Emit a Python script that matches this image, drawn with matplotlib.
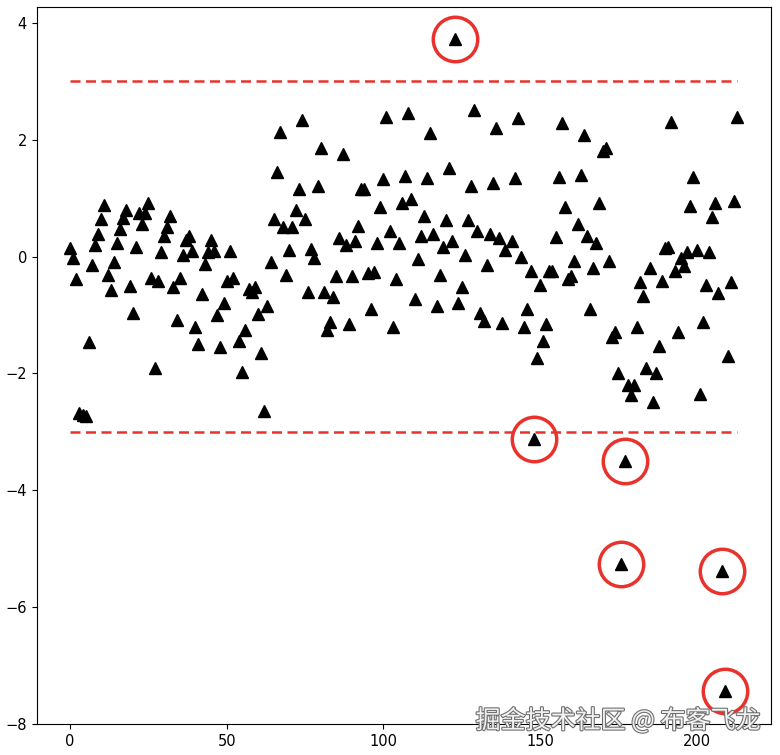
import matplotlib.pyplot as plt
import matplotlib.patheffects as pe

# index of each sample and its value
xs = [0, 1, 2, 3, 4, 5, 6, 7, 8, 9, 10, 11, 12, 13, 14, 15, 16, 17, 18, 19,
      20, 21, 22, 23, 24, 25, 26, 27, 28, 29, 30, 31, 32, 33, 34, 35, 36, 37, 38, 39,
      40, 41, 42, 43, 44, 45, 46, 47, 48, 49, 50, 51, 52, 54, 55, 56, 57, 58, 59, 60,
      61, 62, 63, 64, 65, 66, 67, 68, 69, 70, 71, 72, 73, 74, 75, 76, 77, 78, 79, 80,
      81, 82, 83, 84, 85, 86, 87, 88, 89, 90, 91, 92, 93, 94, 95, 96, 97, 98, 99, 100,
      101, 102, 103, 104, 105, 106, 107, 108, 109, 110, 111, 112, 113, 114, 115, 116, 117, 118, 119, 120,
      121, 123, 122, 124, 125, 126, 127, 128, 129, 130, 131, 132, 133, 134, 135, 136, 137, 138, 139, 141,
      142, 143, 144, 145, 146, 147, 148, 149, 150, 151, 152, 153, 154, 155, 156, 157, 158, 159, 160, 161,
      162, 163, 164, 165, 166, 167, 168, 169, 170, 171, 172, 173, 174, 175, 176, 177, 178, 179, 180, 181,
      182, 183, 184, 185, 186, 187, 188, 189, 190, 191, 192, 193, 194, 195, 196, 197, 198, 199, 200, 201,
      202, 203, 204, 205, 206, 207, 208, 209, 210, 211, 212, 213]
ys = [0.15, -0.03, -0.38, -2.68, -2.72, -2.74, -1.47, -0.14, 0.19, 0.38, 0.65, 0.89, -0.31, -0.58, -0.10, 0.24, 0.48, 0.66, 0.80, -0.51,
      -0.97, 0.17, 0.75, 0.55, 0.75, 0.92, -0.36, -1.91, -0.42, 0.07, 0.36, 0.50, 0.69, -0.53, -1.09, -0.36, 0.03, 0.29, 0.36, 0.10,
      -1.21, -1.49, -0.65, -0.12, 0.07, 0.29, 0.09, -1.00, -1.55, -0.79, -0.42, 0.09, -0.36, -1.45, -1.98, -1.25, -0.56, -0.60, -0.53, -0.99,
      -1.66, -2.65, -0.84, -0.09, 0.65, 1.44, 2.14, 0.51, -0.32, 0.12, 0.51, 0.79, 1.16, 2.34, 0.65, -0.61, 0.13, -0.02, 1.21, 1.86,
      -0.61, -1.25, -1.12, -0.70, -0.34, 0.32, 1.76, 0.20, -1.15, -0.34, 0.26, 0.53, 1.16, 1.16, -0.29, -0.89, -0.27, 0.24, 0.85, 1.32,
      2.39, 0.43, -1.20, -0.39, 0.24, 0.92, 1.38, 2.46, 0.99, -0.72, -0.05, 0.36, 0.70, 1.35, 2.12, 0.39, -0.84, -0.31, 0.17, 0.62,
      1.52, 3.72, 0.26, -0.79, -0.53, 0.03, 0.62, 1.21, 2.51, 0.44, -0.96, -1.11, -0.14, 0.39, 1.26, 2.20, 0.31, -1.13, 0.12, 0.27,
      1.35, 2.37, 0.00, -1.20, -0.89, -0.25, -3.13, -1.74, -0.48, -1.44, -1.16, -0.25, -0.24, 0.34, 1.37, 2.29, 0.85, -0.39, -0.34, -0.07,
      0.56, 1.40, 2.09, 0.36, -0.89, -0.19, 0.24, 0.92, 1.81, 1.86, -0.07, -1.37, -1.30, -2.00, -5.26, -3.50, -2.20, -2.38, -2.20, -1.20,
      -0.44, -0.68, -1.91, -0.19, -2.50, -2.00, -1.54, -0.42, 0.15, 0.17, 2.31, -0.25, -1.30, -0.02, -0.17, 0.07, 0.87, 1.37, 0.12, -2.36,
      -1.12, -0.48, 0.07, 0.68, 0.92, -0.62, -5.38, -7.45, -1.70, -0.44, 0.96, 2.39]

upper = 3
lower = -3

fig = plt.figure(figsize=(7.8, 7.55), dpi=100)
ax = fig.add_axes([0.047, 0.041, 0.941, 0.950])

ax.plot(xs, ys, '^', color='black', markersize=8, linestyle='none')

# threshold lines
ax.hlines([upper, lower], 0, max(xs), colors='#e8322b', linestyles=(0, (4, 2.2)), linewidth=1.8)

# circle the outliers
out_x = [x for x, y in zip(xs, ys) if y > upper or y < lower]
out_y = [y for y in ys if y > upper or y < lower]
ax.plot(out_x, out_y, 'o', markersize=32, markerfacecolor='none',
        markeredgecolor='#e8322b', markeredgewidth=2.5, linestyle='none')

ax.tick_params(labelsize=10.5)

fig.text(0.975, 0.045, '掘金技术社区 @ 布客飞龙', ha='right', va='center',
         fontsize=18, color='#f2f2f2', family=['Noto Sans CJK SC', 'DejaVu Sans'],
         path_effects=[pe.withStroke(linewidth=1.6, foreground='#707070')])

fig.savefig('out.png', dpi=100)
